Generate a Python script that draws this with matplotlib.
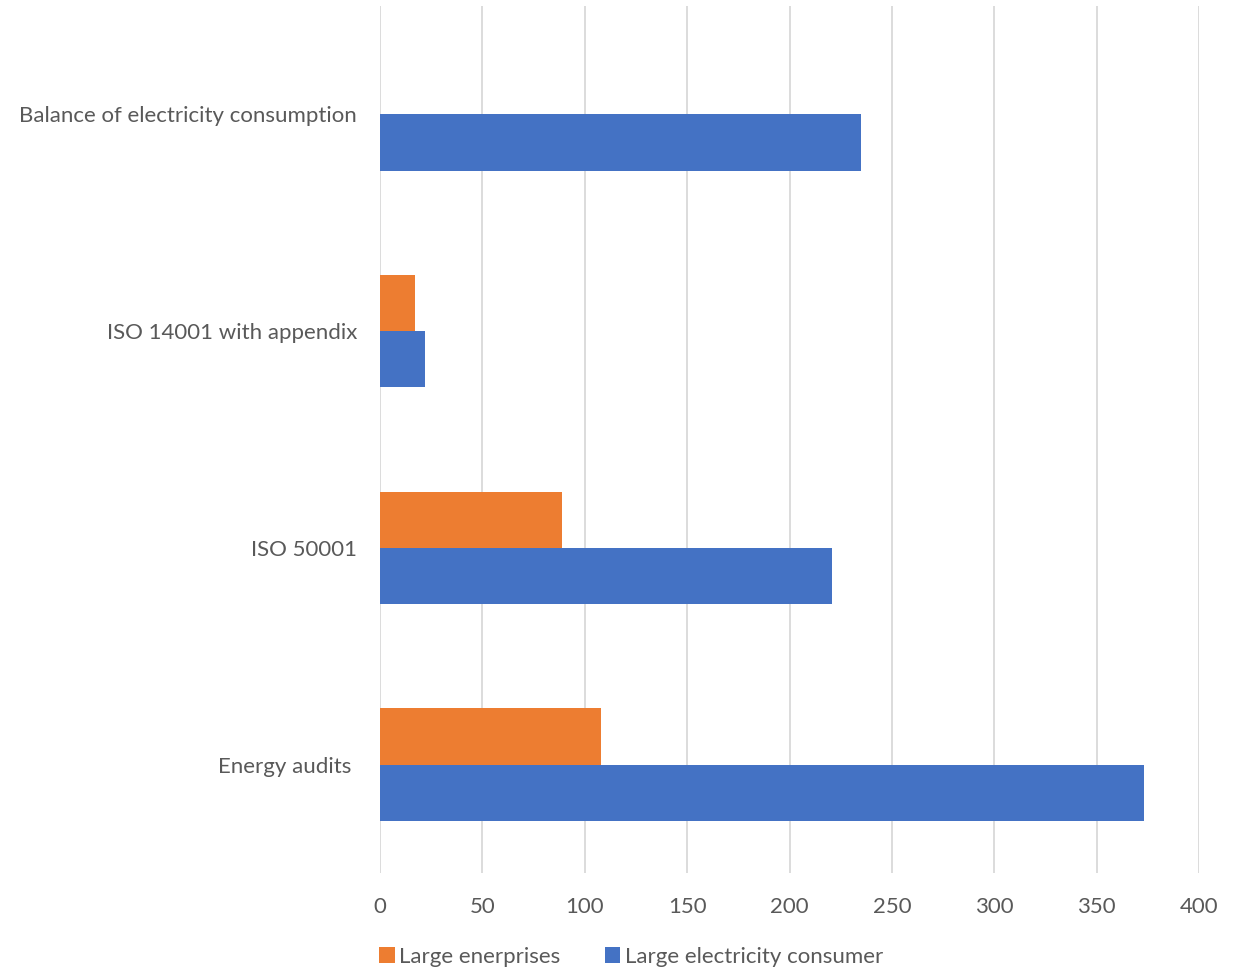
import numpy as np
import matplotlib.pyplot as plt

plt.rcParams['font.family'] = ['Lato', 'DejaVu Sans']

categories = ['Energy audits ', 'ISO 50001', 'ISO 14001 with appendix', 'Balance of electricity consumption']
large_enterprises = [108, 89, 17, 0]
large_consumers = [373, 221, 22, 235]
series_names = ['Large enerprises', 'Large electricity consumer']
colors = ['#ED7D31', '#4472C4']
text_color = '#595959'

fig = plt.figure(figsize=(12.48, 9.71), dpi=100)
ax = fig.add_axes([380/1248, 1 - 873/971, (1199-380)/1248, (873-6)/971])

y = np.arange(len(categories))
h = 0.26
ax.barh(y + h/2, large_enterprises, height=h, color=colors[0], label=series_names[0], zorder=3)
ax.barh(y - h/2, large_consumers, height=h, color=colors[1], label=series_names[1], zorder=3)

ax.set_xlim(0, 400)
ax.set_ylim(-0.5, len(categories) - 0.5)
ax.set_xticks(np.arange(0, 401, 50))
ax.set_yticks(y)
ax.set_yticklabels(categories)
ax.grid(axis='x', color='#D9D9D9', linewidth=1.3, zorder=0)
for s in ax.spines.values():
    s.set_visible(False)
ax.tick_params(length=0, labelsize=16, colors=text_color, pad=16.5)
ax.tick_params(axis='x', pad=17)

handles, labels = ax.get_legend_handles_labels()
fig.legend(handles, labels, loc='center', bbox_to_anchor=(631/1248, 1 - 957/971), ncol=2,
           frameon=False, fontsize=16, labelcolor=text_color, handlelength=0.7, handleheight=0.7,
           handletextpad=0.2, columnspacing=2.0)

fig.savefig('out.png', dpi=100)
